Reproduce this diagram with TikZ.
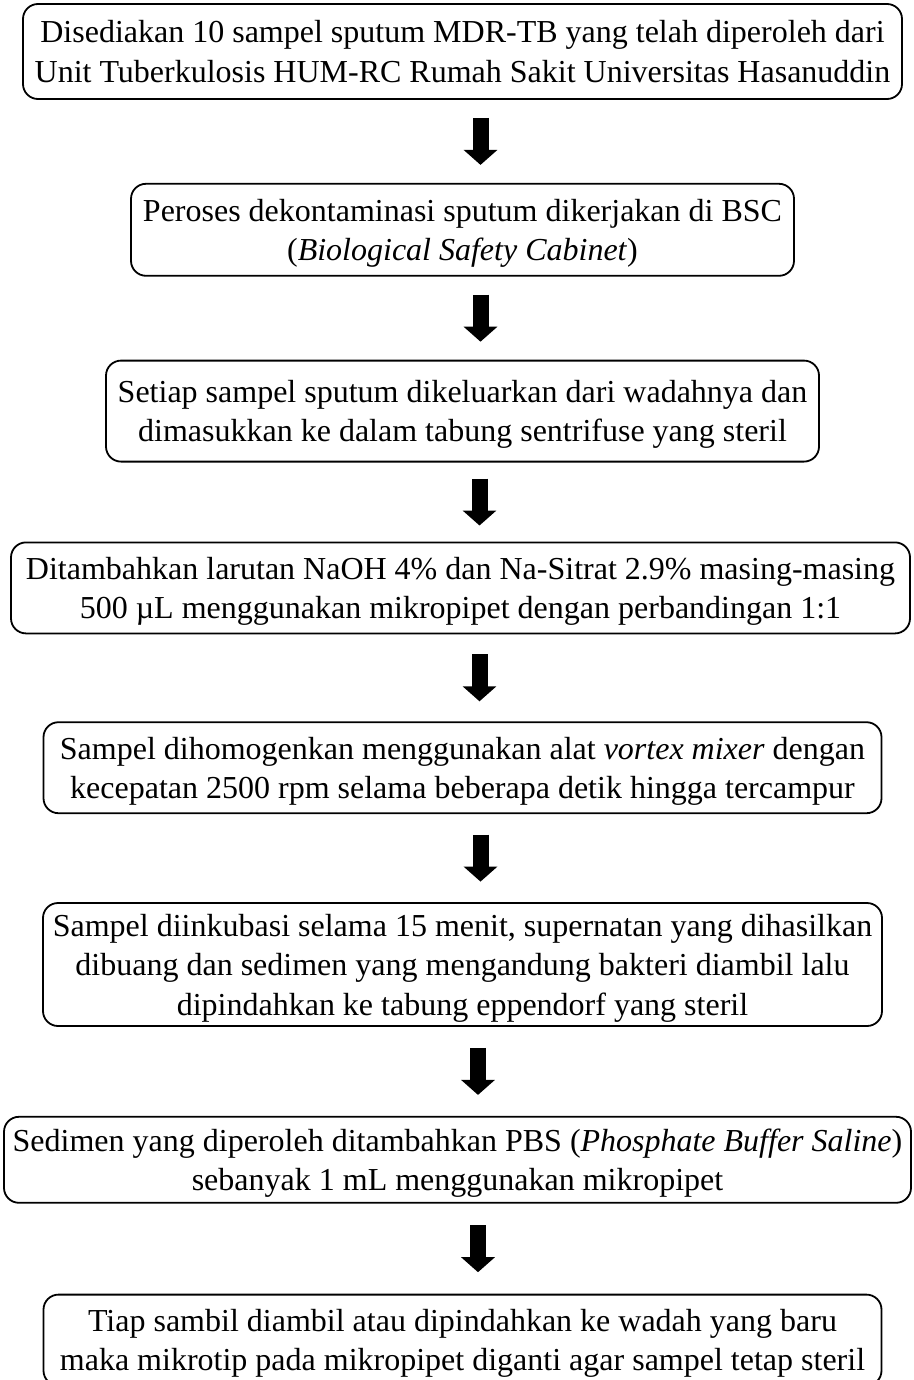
\documentclass[tikz,border=0pt]{standalone}
\usepackage{fontspec}
\setmainfont{Liberation Serif}
\usetikzlibrary{arrows.meta, positioning, calc}

\begin{document}
\begin{tikzpicture}[
  stepbox/.style = {draw, rectangle, rounded corners=15pt, line width=1.8pt,
                    align=center, inner sep=0pt, text depth=0pt,
                    font=\fontsize{32}{39.5}\selectfont},
  blkarr/.style  = {-{Triangle[width=33pt,length=15pt]}, line width=16pt},
]
\useasboundingbox (0,0) rectangle (913pt,-1380pt);

%── Langkah-langkah (atas ke bawah) ───────────────────────────────────────
\node[stepbox, minimum width=879pt, minimum height=95pt] (sampel) at (462.5pt,-51.5pt)
  {Disediakan 10 sampel sputum MDR-TB yang telah diperoleh dari\\
   Unit Tuberkulosis HUM-RC Rumah Sakit Universitas Hasanuddin};

\node[stepbox, minimum width=663pt, minimum height=92pt, below=83pt of sampel] (dekon)
  {Peroses dekontaminasi sputum dikerjakan di BSC\\
   (\textit{Biological Safety Cabinet})};

\node[stepbox, minimum width=713pt, minimum height=101pt, below=83pt of dekon] (wadah)
  {Setiap sampel sputum dikeluarkan dari wadahnya dan\\
   dimasukkan ke dalam tabung sentrifuse yang steril};

\node[stepbox, minimum width=899pt, minimum height=91pt, below=79pt of wadah, xshift=-2pt] (naoh)
  {Ditambahkan larutan NaOH 4\% dan Na-Sitrat 2.9\% masing-masing\\
   500 µL menggunakan mikropipet dengan perbandingan 1:1};

\node[stepbox, minimum width=838pt, minimum height=91pt, below=87pt of naoh, xshift=2pt] (vortex)
  {Sampel dihomogenkan menggunakan alat \textit{vortex mixer} dengan\\
   kecepatan 2500 rpm selama beberapa detik hingga tercampur};

\node[stepbox, minimum width=839pt, minimum height=123pt, below=88pt of vortex] (inkubasi)
  {Sampel diinkubasi selama 15 menit, supernatan yang dihasilkan\\
   dibuang dan sedimen yang mengandung bakteri diambil lalu\\
   dipindahkan ke tabung eppendorf yang steril};

\node[stepbox, minimum width=907pt, minimum height=86pt, below=89pt of inkubasi, xshift=-5pt] (pbs)
  {Sedimen yang diperoleh ditambahkan PBS (\textit{Phosphate Buffer Saline})\\
   sebanyak 1 mL menggunakan mikropipet};

\node[stepbox, minimum width=838pt, minimum height=91pt, below=90pt of pbs, xshift=5pt] (mikrotip)
  {Tiap sambil diambil atau dipindahkan ke wadah yang baru\\
   maka mikrotip pada mikropipet diganti agar sampel tetap steril};

%── Panah blok di antara langkah ──────────────────────────────────────────
\foreach \a/\b in {sampel/dekon, dekon/wadah, wadah/naoh, naoh/vortex,
                   vortex/inkubasi, inkubasi/pbs, pbs/mikrotip}
  \draw[blkarr] ($(\a.south)!0.5!(\b.north) + (18pt,23.5pt)$)
             -- ($(\a.south)!0.5!(\b.north) + (18pt,-23.5pt)$);

\end{tikzpicture}
\end{document}
